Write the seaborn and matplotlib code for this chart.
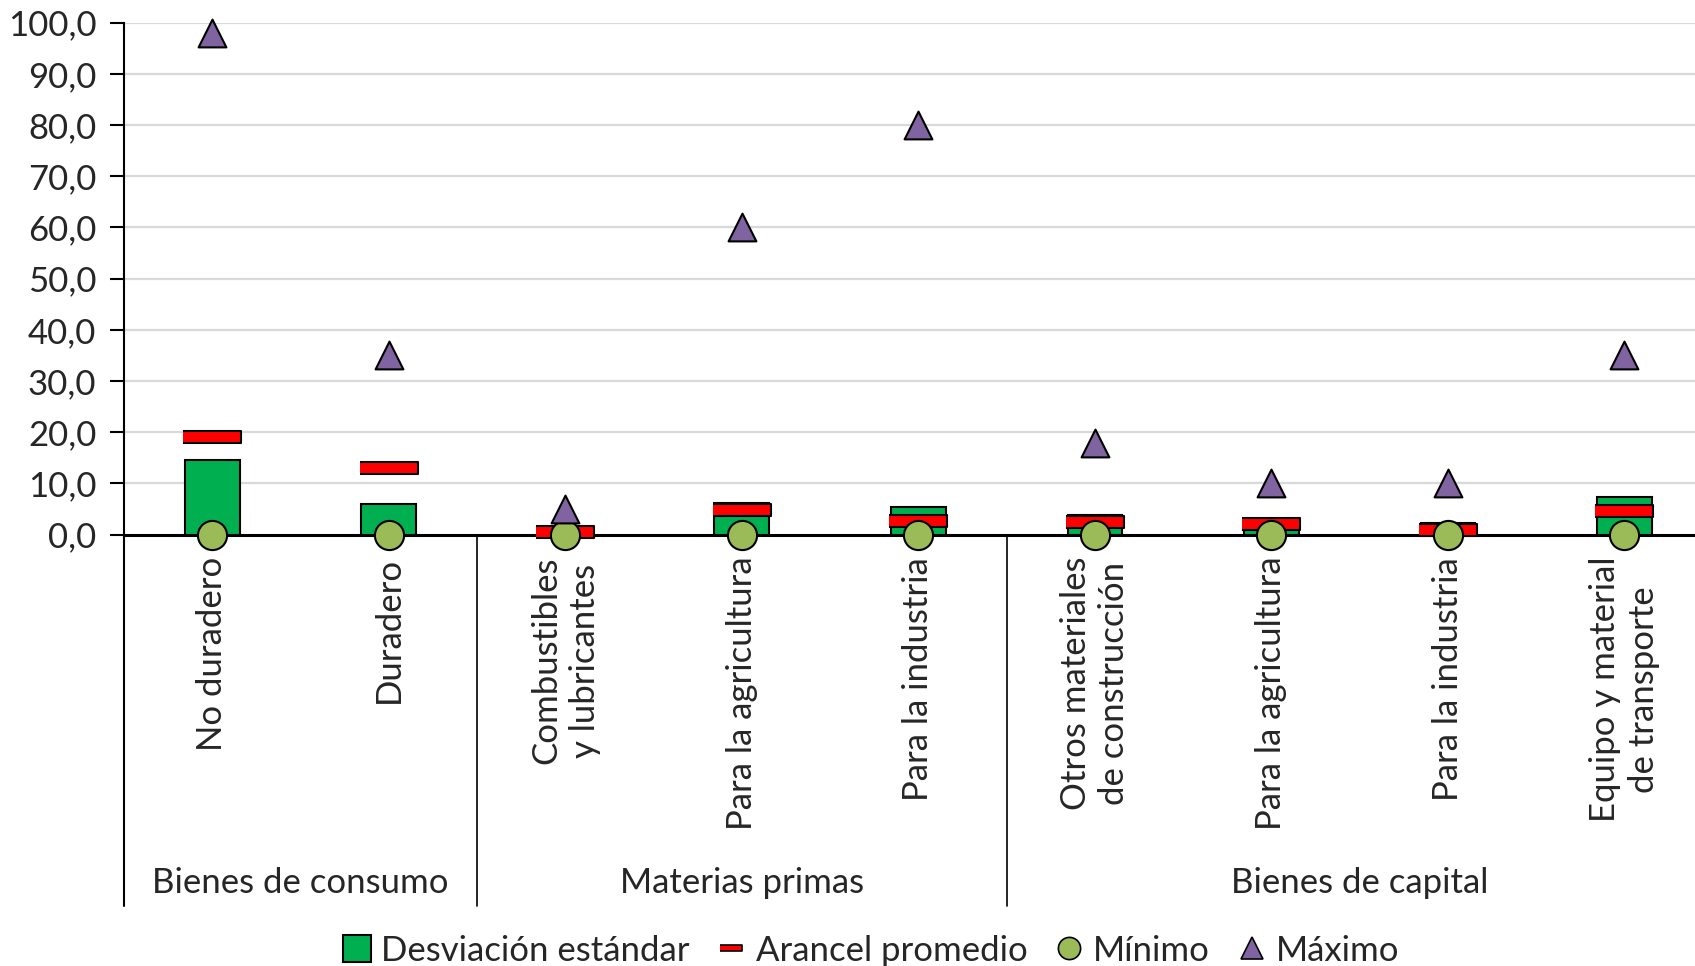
import matplotlib
matplotlib.use("Agg")
import matplotlib.pyplot as plt
from matplotlib.lines import Line2D
from matplotlib.patches import Patch
import seaborn as sns
import pandas as pd

groups = ["Bienes de consumo", "Bienes de consumo",
          "Materias primas", "Materias primas", "Materias primas",
          "Bienes de capital", "Bienes de capital", "Bienes de capital", "Bienes de capital"]
labels = ["No duradero", "Duradero", "Combustibles\ny lubricantes", "Para la agricultura",
          "Para la industria", "Otros materiales\nde construcción", "Para la agricultura",
          "Para la industria", "Equipo y material\nde transporte"]
desviacion = [14.6, 6.0, 0.8, 6.2, 5.3, 3.9, 2.5, 2.2, 7.3]
arancel = [19.0, 13.0, 0.6, 4.8, 2.7, 2.4, 2.1, 0.9, 4.6]
minimo = [0.0, 0.0, 0.0, 0.0, 0.0, 0.0, 0.0, 0.0, 0.0]
maximo = [98.0, 35.0, 5.0, 60.0, 80.0, 17.8, 10.1, 10.1, 35.0]
group_names = ["Bienes de consumo", "Materias primas", "Bienes de capital"]
y_ticks = [0, 10, 20, 30, 40, 50, 60, 70, 80, 90, 100]

df = pd.DataFrame({"grupo": groups, "categoria": labels, "sd": desviacion,
                   "media": arancel, "min": minimo, "max": maximo})
df["id"] = [f"{g}|{c}" for g, c in zip(groups, labels)]
order = list(df["id"])

GREEN = "#00b050"
RED = "#ff0000"
LGREEN = "#9bbb59"
PURPLE = "#8064a2"
FS = 25

sns.set_theme(style="white")
plt.rcParams["font.family"] = ["Lato", "DejaVu Sans"]

fig = plt.figure(figsize=(16.95, 9.66), dpi=100)
ax = fig.add_axes([0.0732, 0.4466, 0.9268, 0.5299])

for v in y_ticks[1:]:
    ax.axhline(v, color="#d9d9d9", lw=1.6, zorder=0)

sns.barplot(data=df, x="id", y="sd", order=order, color=GREEN, width=0.31,
            edgecolor="black", linewidth=1.5, saturation=1, ax=ax, zorder=2)

rect = [(-1, -0.22), (1, -0.22), (1, 0.22), (-1, 0.22)]
sns.stripplot(data=df, x="id", y="media", order=order, jitter=False, marker=rect,
              size=42, color=RED, edgecolor="black", linewidth=1.5, ax=ax, zorder=3)
sns.stripplot(data=df, x="id", y="min", order=order, jitter=False, marker="o",
              size=21, color=LGREEN, edgecolor="black", linewidth=1.5, ax=ax, zorder=4)
sns.stripplot(data=df, x="id", y="max", order=order, jitter=False, marker="^",
              size=20, color=PURPLE, edgecolor="black", linewidth=1.5, ax=ax, zorder=5)
for coll in ax.collections:
    coll.set_clip_on(False)

ax.set_xlim(-0.5, 8.4)
ax.set_ylim(0, 100)
ax.set_yticks(y_ticks)
ax.set_yticklabels([f"{v:.1f}".replace(".", ",") for v in y_ticks])
ax.set_xticks(range(len(labels)))
ax.set_xticklabels(labels, rotation=90, va="top", ha="center", linespacing=1.25)
ax.tick_params(axis="x", length=0, pad=16, labelsize=FS)
ax.tick_params(axis="y", length=10, width=1.5, direction="out", pad=10, labelsize=FS,
               left=True, color="black")
ax.set_xlabel("")
ax.set_ylabel("")

for s in ["top", "right"]:
    ax.spines[s].set_visible(False)
ax.spines["left"].set_color("black")
ax.spines["left"].set_linewidth(1.5)
ax.spines["bottom"].set_color("black")
ax.spines["bottom"].set_linewidth(2.2)
ax.spines["bottom"].set_zorder(1)

trans = ax.get_xaxis_transform()
bottom_frac = -0.7255
ax.plot([-0.5, -0.5], [0, bottom_frac], transform=trans, color="black", lw=1.5, clip_on=False)
g_start = 0
for gi, gname in enumerate(group_names):
    n = groups.count(gname)
    center = g_start + (n - 1) / 2
    ax.text(center, -0.68, gname, transform=trans, ha="center", va="center", fontsize=FS)
    end = g_start + n - 0.5
    if gi < len(group_names) - 1:
        ax.plot([end, end], [0, bottom_frac], transform=trans, color="black", lw=1.2, clip_on=False)
    g_start += n

handles = [
    Patch(facecolor=GREEN, edgecolor="black", linewidth=1.5),
    Line2D([], [], linestyle="none", marker=[(-1, -0.3), (1, -0.3), (1, 0.3), (-1, 0.3)],
           markersize=16, markerfacecolor=RED, markeredgecolor="black", markeredgewidth=1.2),
    Line2D([], [], linestyle="none", marker="o", markersize=16, markerfacecolor=LGREEN,
           markeredgecolor="black", markeredgewidth=1.2),
    Line2D([], [], linestyle="none", marker="^", markersize=16, markerfacecolor=PURPLE,
           markeredgecolor="black", markeredgewidth=1.2),
]
fig.legend(handles, ["Desviación estándar", "Arancel promedio", "Mínimo", "Máximo"],
           loc="center", bbox_to_anchor=(0.514, 0.016), ncol=4, frameon=False,
           fontsize=FS, handlelength=0.8, handleheight=0.8, handletextpad=0.3,
           columnspacing=0.8)

fig.savefig("out.png", dpi=100)
